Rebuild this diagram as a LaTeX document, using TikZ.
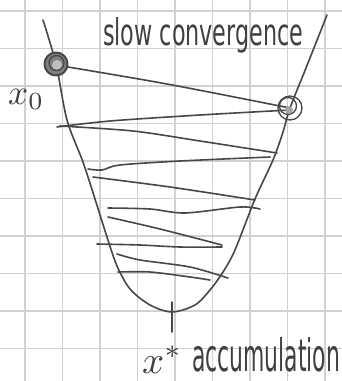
\documentclass[tikz,border=0pt]{standalone}
\usepackage{graphicx}
\usepackage{fontspec}
\setmainfont{DejaVu Sans}
\usetikzlibrary{calc}
\begin{document}
\begin{tikzpicture}[x=1pt,y=-1pt,
  gridline/.style={draw=black!18,line width=1.4pt},
  ink/.style={draw=black!72,line width=1.6pt,line cap=round,line join=round},
  lbl/.style={text=black!75,inner sep=0pt,anchor=base west}]
\useasboundingbox (0,0) rectangle (342,381);
\fill[white] (0,0) rectangle (342,381);
% grid
\foreach \gx in {25,62.5,100,137.5,175,212.5,250,287.5,325}
  \draw[gridline] (\gx,0) -- (\gx,381);
\foreach \gy in {11,48.5,86,123.5,161,198.5,236,273.5,311,348.5}
  \draw[gridline] (0,\gy) -- (342,\gy);
% named points
\coordinate (x0) at (56,64);
\coordinate (p1) at (290,108);
\coordinate (xs) at (172,312);
\coordinate (tickb) at (172,332);
\coordinate (tickt) at (172,302);
% parabola
\draw[ink] plot[smooth,tension=0.5] coordinates {(43,20) (56,64) (67,120) (83,162) (95,199) (107,237) (117,266) (130,289) (150,305) (172,312) (195,305) (210,290) (223,272) (235,250) (255,199) (273,160) (283,132) (290,108) (306,68) (327,15)};
% iterates zigzag
\draw[ink] plot[smooth,tension=0.5] coordinates {(62,66) (167,84) (290,108)};
\draw[ink] plot[smooth,tension=0.5] coordinates {(290,110) (200,115) (110,121) (57,127)};
\draw[ink] plot[smooth,tension=0.5] coordinates {(60,126) (133,131) (200,141) (277,153)};
\draw[ink] plot[smooth,tension=0.5] coordinates {(270,157) (180,161) (120,165) (102,170) (88,169)};
\draw[ink] plot[smooth,tension=0.5] coordinates {(93,177) (170,187) (255,200)};
\draw[ink] plot[smooth,tension=0.5] coordinates {(108,208) (150,209) (185,213) (240,207) (260,209)};
\draw[ink] plot[smooth,tension=0.5] coordinates {(108,217) (160,229) (222,245)};
\draw[ink] plot[smooth,tension=0.5] coordinates {(97,244) (140,245) (180,247) (222,247)};
\draw[ink] plot[smooth,tension=0.5] coordinates {(117,254) (140,260) (190,267) (228,278)};
\draw[ink] plot[smooth,tension=0.5] coordinates {(118,272) (150,272) (190,277) (210,280)};
% circles
\fill[black!50] (x0) circle (11);
\fill[black!25] ($(x0)+(1,1)$) circle (5);
\draw[ink,line width=2pt] (x0) circle (11.5);
\draw[ink,line width=1.3pt] ($(x0)+(0.5,-1)$) circle (7.5);
\draw[ink,line width=1.3pt] (p1) circle (12);
\draw[ink,line width=1.3pt] ($(p1)+(-2,-2)$) circle (8.5);
\fill[black!35] ($(p1)+(-1,2)$) circle (4);
% tick at minimum
\draw[ink] (tickt) -- (tickb);
% labels
\node[lbl] (t1) at (103,45) {\resizebox{200pt}{28pt}{slow convergence}};
\node[lbl] (t2) at (192,371) {\resizebox{148pt}{34pt}{accumulation}};
\node[lbl] (t3) at (8,104) {\resizebox{36pt}{!}{$x_0$}};
\node[lbl] (t4) at (142,373) {\resizebox{40pt}{!}{$x^*$}};
\end{tikzpicture}
\end{document}
